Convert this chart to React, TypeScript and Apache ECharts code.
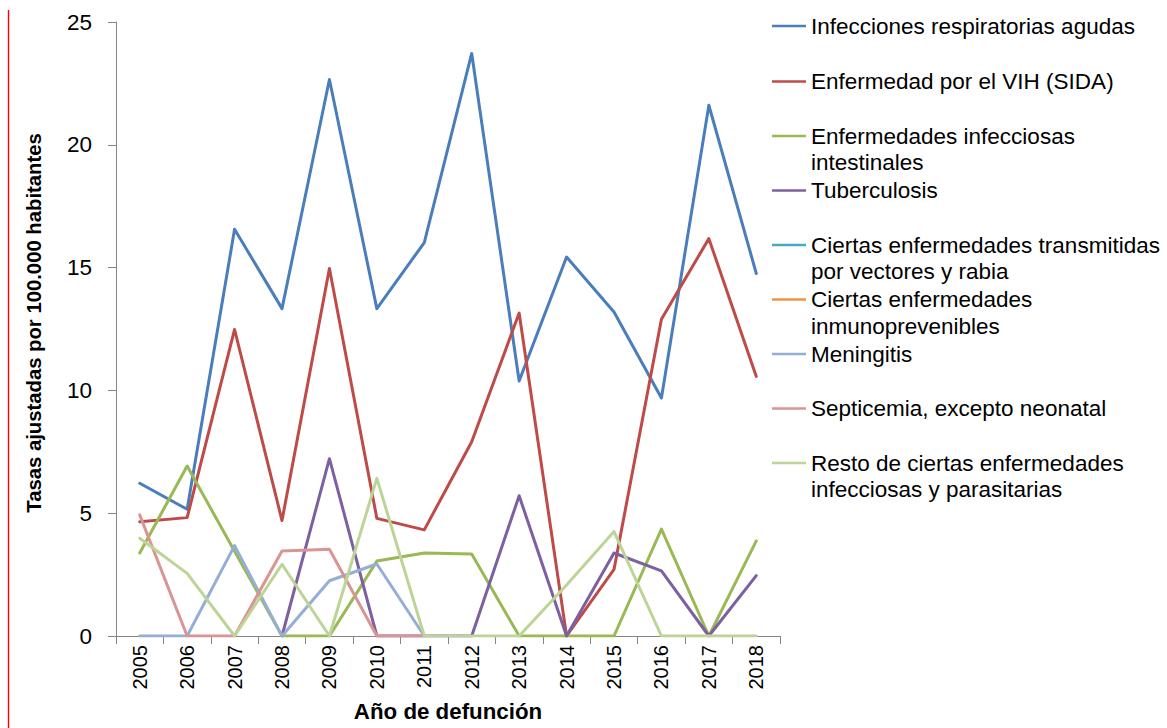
import React, { useEffect, useRef } from "react";
import * as echarts from "echarts";

const years = ["2005", "2006", "2007", "2008", "2009", "2010", "2011", "2012", "2013", "2014", "2015", "2016", "2017", "2018"];

const legendLabels = [
  "Infecciones respiratorias agudas",
  "Enfermedad por el VIH (SIDA)",
  "Enfermedades infecciosas\nintestinales",
  "Tuberculosis",
  "Ciertas enfermedades transmitidas\npor vectores y rabia",
  "Ciertas enfermedades\ninmunoprevenibles",
  "Meningitis",
  "Septicemia, excepto neonatal",
  "Resto de ciertas enfermedades\ninfecciosas y parasitarias",
];

const respiratorias = [6.22, 5.16, 16.56, 13.33, 22.66, 13.33, 16.02, 23.72, 10.38, 15.43, 13.19, 9.69, 21.61, 14.76];
const vih = [4.65, 4.82, 12.48, 4.7, 14.96, 4.79, 4.32, 7.91, 13.15, 0, 2.71, 12.9, 16.18, 10.57];
const intestinales = [3.38, 6.92, 3.45, 0, 0, 3.05, 3.38, 3.34, 0, 0, 0, 4.35, 0, 3.87];
const tuberculosis = [null, null, null, 0, 7.22, 0, 0, 0, 5.71, 0, 3.38, 2.65, 0, 2.46];
const vectores = [null, null, null, null, null, null, null, null, null, null, null, null, null, null];
const inmunoprevenibles = [null, null, null, null, null, null, null, null, null, null, null, null, null, null];
const meningitis = [0, 0, 3.68, 0, 2.25, 2.93, 0, null, null, null, null, null, null, null];
const septicemia = [4.93, 0, 0, 3.46, 3.53, 0, 0, null, null, null, null, null, null, null];
const resto = [3.98, 2.55, 0, 2.92, 0, 6.42, 0, 0, 0, 2.08, 4.25, 0, 0, 0];

const seriesValues = [respiratorias, vih, intestinales, tuberculosis, vectores, inmunoprevenibles, meningitis, septicemia, resto];
const colors = ["#4A7EBB", "#BE4B48", "#98B954", "#7D60A0", "#46AAC5", "#F69240", "#94AED6", "#D89593", "#BDD497"];

const yTicks = { min: 0, max: 25, interval: 5 };
const legendFirstLineY = [26, 81.5, 136, 190.5, 245, 299.5, 354, 408.5, 463];

const FONT = "'Liberation Sans', Arial, sans-serif";

export default function App() {
  const ref = useRef<HTMLDivElement>(null);
  useEffect(() => {
    if (!ref.current) return;
    const chart = echarts.init(ref.current, null, { renderer: "svg" });
    const names = legendLabels.map((s) => s.replace("\n", " "));
    const LH = 26.5;
    const legends = names.map((name, i) => {
      const two = legendLabels[i].includes("\n");
      return {
        data: [name],
        orient: "vertical",
        left: 772,
        top: legendFirstLineY[i] - (two ? LH * 1.5 : LH / 2),
        padding: 0,
        itemWidth: 34,
        itemHeight: 2.5,
        icon: "rect",
        itemStyle: { borderWidth: 0 },
        selectedMode: false,
        formatter: () => (two ? "\n" + legendLabels[i] : legendLabels[i]),
        textStyle: {
          fontSize: 22.5,
          lineHeight: LH,
          fontFamily: FONT,
          color: "#000",
        },
      };
    });
    chart.setOption({
      animation: false,
      backgroundColor: "#fff",
      grid: { left: 116, right: 387, top: 22, bottom: 92, containLabel: false, outerBoundsMode: "none" },
      legend: legends,
      xAxis: {
        type: "category",
        data: years,
        boundaryGap: true,
        name: "Año de defunción",
        nameLocation: "middle",
        nameGap: 62,
        nameTextStyle: { fontSize: 22.3, fontWeight: "bold", fontFamily: FONT, color: "#000", lineHeight: 26 },
        axisLine: { show: true, lineStyle: { color: "#868686", width: 1 } },
        axisTick: { show: true, length: 8, interval: 0, lineStyle: { color: "#868686" } },
        axisLabel: { rotate: 90, interval: 0, margin: 9, fontSize: 20, fontFamily: FONT, color: "#000" },
        splitLine: { show: false },
      },
      yAxis: {
        type: "value",
        min: yTicks.min,
        max: yTicks.max,
        interval: yTicks.interval,
        name: "Tasas ajustadas por 100.000 habitantes",
        nameLocation: "middle",
        nameGap: 70,
        nameRotate: 90,
        nameTextStyle: {
          fontSize: 20.3,
          fontWeight: "bold",
          fontFamily: FONT,
          color: "#000",
          lineHeight: 24,
          padding: [0, 0, 0, 12],
        },
        axisLine: { show: true, lineStyle: { color: "#868686", width: 1 } },
        axisTick: { show: true, length: 8, lineStyle: { color: "#868686" } },
        axisLabel: { margin: 24, fontSize: 22.5, fontFamily: FONT, color: "#000" },
        splitLine: { show: false },
      },
      graphic: [
        {
          type: "line",
          shape: { x1: 8.5, y1: 10, x2: 8.5, y2: 728 },
          style: { stroke: "#FF0000", lineWidth: 1.4 },
          silent: true,
        },
      ],
      series: names.map((name, i) => ({
        name,
        type: "line",
        data: seriesValues[i],
        color: colors[i],
        symbol: "none",
        connectNulls: false,
        lineStyle: { width: 3, color: colors[i], cap: "round", join: "round" },
        emphasis: { disabled: true },
      })),
    });
    return () => chart.dispose();
  }, []);
  return (
    <div
      ref={ref}
      style={{ position: "fixed", left: 0, top: 0, width: 1167, height: 728, background: "#fff" }}
    />
  );
}
